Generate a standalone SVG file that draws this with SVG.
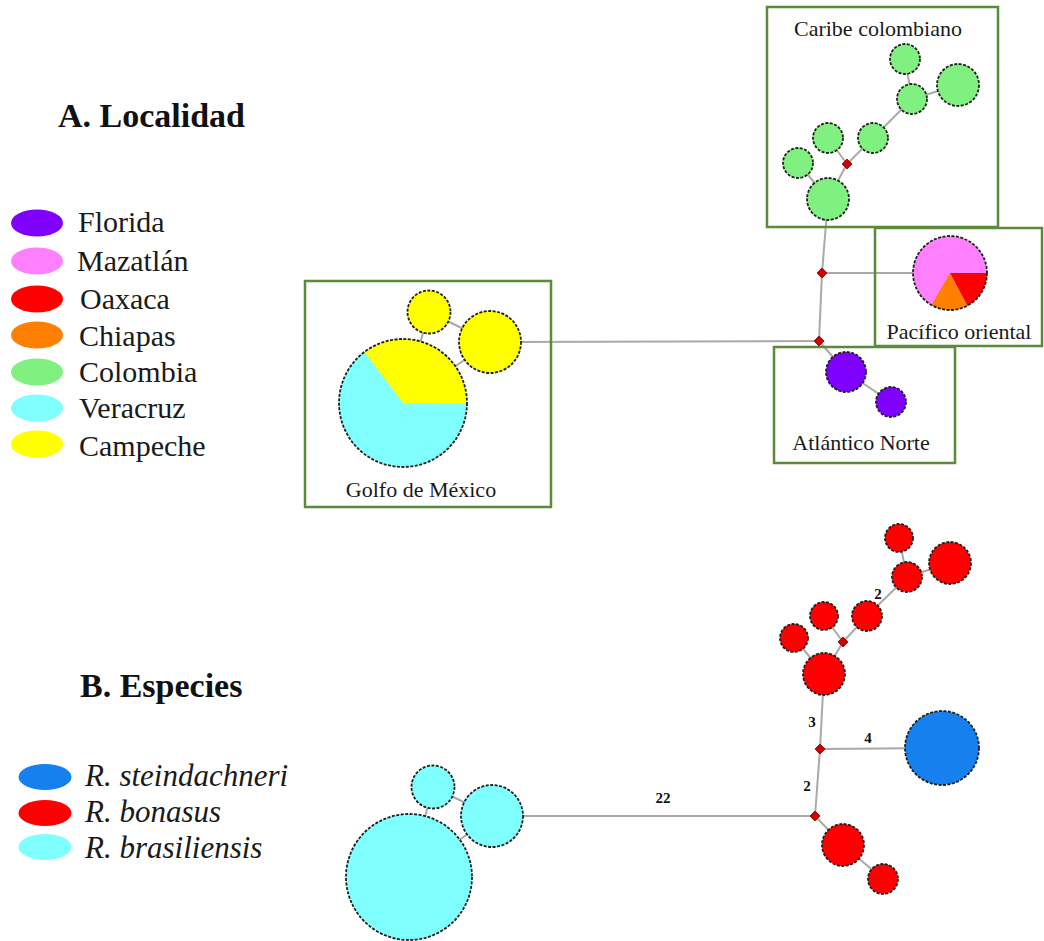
<svg xmlns="http://www.w3.org/2000/svg" width="1044" height="941" viewBox="0 0 1044 941">
  <style>
    .edge { stroke: #a9a9a9; stroke-width: 2; fill: none; }
    .hap { stroke: #1f1f1f; stroke-width: 1.8; stroke-dasharray: 3 1.5; }
    .mv { fill: #d40000; stroke: #7a0000; stroke-width: 0.8; }
    .box { fill: none; stroke: #5b8b3a; stroke-width: 2.5; }
    .title { font-family: "Liberation Serif", "Times New Roman", serif; font-weight: bold; font-size: 34px; fill: #111; }
    .leg { font-family: "Liberation Serif", "Times New Roman", serif; font-size: 30px; fill: #1a1a1a; }
    .legi { font-family: "Liberation Serif", "Times New Roman", serif; font-style: italic; font-size: 31px; fill: #1a1a1a; }
    .region { font-family: "Liberation Serif", "Times New Roman", serif; font-size: 22px; fill: #1a1a1a; text-anchor: middle; }
    .steps { font-family: "Liberation Serif", "Times New Roman", serif; font-weight: bold; font-size: 15px; fill: #111; text-anchor: middle; }
    .col { fill: #80f080; }
    .flo { fill: #7f00ff; }
    .maz { fill: #ff80ff; }
    .oax { fill: #ff0000; }
    .chi { fill: #ff8000; }
    .ver { fill: #80ffff; }
    .cam { fill: #ffff00; }
    .ste { fill: #1580ee; }
    .bon { fill: #ff0000; }
  </style>
  <defs>
    <rect id="median" x="-3.5" y="-3.5" width="7" height="7" transform="rotate(45)"/>
  </defs>
  <rect width="1044" height="941" fill="#ffffff"/>

  <!-- Panel A : locality -->
  <text class="title" x="58" y="127">A. Localidad</text>
  <g id="legend-a">
    <ellipse class="flo" cx="37" cy="223" rx="26" ry="13.5"/>
    <text class="leg" x="78" y="232">Florida</text>
    <ellipse class="maz" cx="37" cy="261" rx="26" ry="13.5"/>
    <text class="leg" x="77" y="271">Mazatlán</text>
    <ellipse class="oax" cx="37" cy="299" rx="26" ry="13.5"/>
    <text class="leg" x="80" y="309">Oaxaca</text>
    <ellipse class="chi" cx="37" cy="335" rx="26" ry="13.5"/>
    <text class="leg" x="79" y="346">Chiapas</text>
    <ellipse class="col" cx="37" cy="372" rx="26" ry="13.5"/>
    <text class="leg" x="79" y="382">Colombia</text>
    <ellipse class="ver" cx="37" cy="408" rx="26" ry="13.5"/>
    <text class="leg" x="79" y="418">Veracruz</text>
    <ellipse class="cam" cx="37" cy="444" rx="26" ry="13.5"/>
    <text class="leg" x="79" y="456">Campeche</text>
  </g>

  <g id="connectors-a">
    <line class="edge" x1="905" y1="59" x2="912" y2="99"/>
    <line class="edge" x1="912" y1="99" x2="958" y2="85"/>
    <line class="edge" x1="912" y1="99" x2="873" y2="138"/>
    <line class="edge" x1="873" y1="138" x2="847" y2="164"/>
    <line class="edge" x1="847" y1="164" x2="828" y2="138"/>
    <line class="edge" x1="847" y1="164" x2="828" y2="199"/>
    <line class="edge" x1="798" y1="163" x2="828" y2="199"/>
    <line class="edge" x1="828" y1="199" x2="822" y2="273"/>
    <line class="edge" x1="822" y1="273" x2="950" y2="273"/>
    <line class="edge" x1="822" y1="273" x2="819" y2="341"/>
    <line class="edge" x1="819" y1="341" x2="490" y2="342"/>
    <line class="edge" x1="819" y1="341" x2="846" y2="372"/>
    <line class="edge" x1="846" y1="372" x2="891" y2="402"/>
    <line class="edge" x1="429" y1="312" x2="490" y2="342"/>
    <line class="edge" x1="429" y1="312" x2="403" y2="403"/>
    <line class="edge" x1="490" y1="342" x2="403" y2="403"/>
  </g>

  <g id="caribe-colombiano">
    <rect class="box" x="767" y="7" width="231" height="220"/>
    <text class="region" x="878" y="36">Caribe colombiano</text>
    <circle class="col hap" cx="905" cy="59" r="15"/>
    <circle class="col hap" cx="958" cy="85" r="21"/>
    <circle class="col hap" cx="912" cy="99" r="15"/>
    <circle class="col hap" cx="873" cy="138" r="15"/>
    <circle class="col hap" cx="828" cy="138" r="15"/>
    <circle class="col hap" cx="798" cy="163" r="15"/>
    <circle class="col hap" cx="828" cy="199" r="21"/>
    <use href="#median" class="mv" x="847" y="164"/>
  </g>

  <g id="pacifico-oriental">
    <rect class="box" x="875" y="228" width="167" height="118"/>
    <circle class="maz" cx="950" cy="273" r="37"/>
    <path class="oax" d="M950,273 L987,273 A37,37 0 0 1 967.4,305.7 Z"/>
    <path class="chi" d="M950,273 L967.4,305.7 A37,37 0 0 1 931.5,305 Z"/>
    <circle class="hap" cx="950" cy="273" r="37" fill="none" stroke="#3a1030"/>
    <text class="region" x="959" y="339">Pacífico oriental</text>
  </g>

  <g id="atlantico-norte">
    <rect class="box" x="774" y="347" width="181" height="116"/>
    <circle class="flo hap" cx="846" cy="372" r="20"/>
    <circle class="flo hap" cx="891" cy="402" r="15"/>
    <text class="region" x="861" y="450">Atlántico Norte</text>
  </g>

  <g id="golfo-de-mexico">
    <rect class="box" x="305" y="281" width="246" height="226"/>
    <circle class="cam hap" cx="429" cy="312" r="21.5"/>
    <circle class="cam hap" cx="490" cy="342" r="31"/>
    <circle class="ver" cx="403" cy="403" r="64"/>
    <path class="cam" d="M403,403 L364.5,351.9 A64,64 0 0 1 467,403 Z"/>
    <circle class="hap" cx="403" cy="403" r="64" fill="none"/>
    <text class="region" x="421" y="497">Golfo de México</text>
  </g>

  <g id="median-vectors-a">
    <use href="#median" class="mv" x="822" y="273"/>
    <use href="#median" class="mv" x="819" y="341"/>
  </g>

  <!-- Panel B : species -->
  <text class="title" x="80" y="697">B. Especies</text>
  <g id="legend-b">
    <ellipse class="ste" cx="45" cy="777" rx="26.5" ry="13"/>
    <text class="legi" x="85" y="786">R. steindachneri</text>
    <ellipse class="bon" cx="45" cy="813" rx="26.5" ry="13"/>
    <text class="legi" x="85" y="822">R. bonasus</text>
    <ellipse class="ver" cx="45" cy="847" rx="26.5" ry="13"/>
    <text class="legi" x="85" y="858">R. brasiliensis</text>
  </g>

  <g id="connectors-b">
    <line class="edge" x1="899" y1="538" x2="907" y2="577"/>
    <line class="edge" x1="907" y1="577" x2="950" y2="563"/>
    <line class="edge" x1="907" y1="577" x2="867" y2="616"/>
    <line class="edge" x1="867" y1="616" x2="843" y2="642"/>
    <line class="edge" x1="843" y1="642" x2="824" y2="616"/>
    <line class="edge" x1="843" y1="642" x2="824" y2="674"/>
    <line class="edge" x1="794" y1="638" x2="824" y2="674"/>
    <line class="edge" x1="824" y1="674" x2="820" y2="749"/>
    <line class="edge" x1="820" y1="749" x2="942" y2="748"/>
    <line class="edge" x1="820" y1="749" x2="815" y2="816"/>
    <line class="edge" x1="815" y1="816" x2="492" y2="816"/>
    <line class="edge" x1="815" y1="816" x2="843" y2="845"/>
    <line class="edge" x1="843" y1="845" x2="883" y2="879"/>
    <line class="edge" x1="433" y1="787" x2="492" y2="816"/>
    <line class="edge" x1="433" y1="787" x2="409" y2="877"/>
    <line class="edge" x1="492" y1="816" x2="409" y2="877"/>
    <text class="steps" x="878" y="599">2</text>
    <text class="steps" x="812" y="727">3</text>
    <text class="steps" x="868" y="743">4</text>
    <text class="steps" x="807" y="791">2</text>
    <text class="steps" x="663" y="803">22</text>
  </g>

  <g id="r-bonasus">
    <circle class="bon hap" cx="899" cy="538" r="14"/>
    <circle class="bon hap" cx="950" cy="563" r="21"/>
    <circle class="bon hap" cx="907" cy="577" r="15"/>
    <circle class="bon hap" cx="867" cy="616" r="15"/>
    <circle class="bon hap" cx="824" cy="616" r="14"/>
    <circle class="bon hap" cx="794" cy="638" r="14"/>
    <circle class="bon hap" cx="824" cy="674" r="21"/>
    <circle class="bon hap" cx="843" cy="845" r="21"/>
    <circle class="bon hap" cx="883" cy="879" r="15"/>
  </g>

  <g id="r-steindachneri">
    <circle class="ste hap" cx="942" cy="748" r="37"/>
  </g>

  <g id="r-brasiliensis">
    <circle class="ver hap" cx="433" cy="787" r="21.5"/>
    <circle class="ver hap" cx="492" cy="816" r="31"/>
    <circle class="ver hap" cx="409" cy="877" r="63"/>
  </g>

  <g id="median-vectors-b">
    <use href="#median" class="mv" x="843" y="642"/>
    <use href="#median" class="mv" x="820" y="749"/>
    <use href="#median" class="mv" x="815" y="816"/>
  </g>
</svg>
